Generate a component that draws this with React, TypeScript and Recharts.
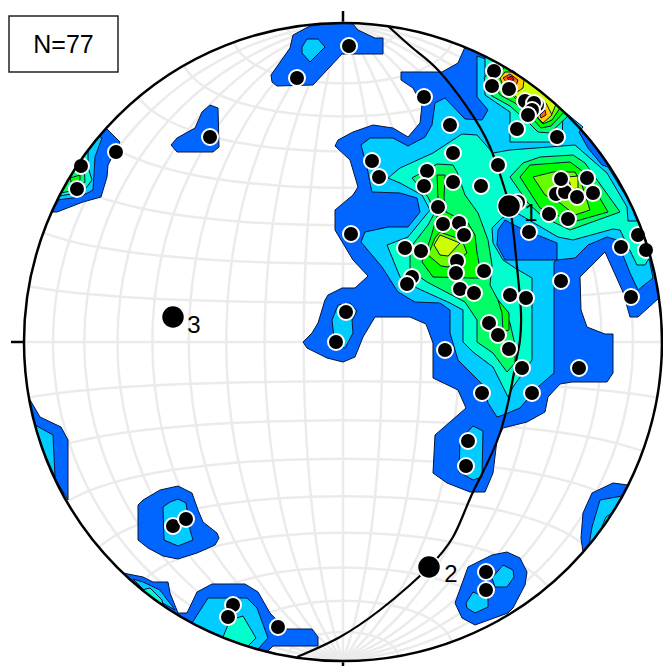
import React from 'react';
import { ScatterChart, Scatter, XAxis, YAxis, ReferenceDot, ReferenceLine, ReferenceArea } from 'recharts';

type Pair = [number, number];

const WIDTH = 663;
const HEIGHT = 666;
const NET_X = 343;
const NET_Y = 342;
const NET_R = 319;

// digitised contour outlines, lowest level first
const level1: Pair[][] = [
  [[465, 47], [500, 64], [530, 84], [560, 108], [590, 140], [610, 167], [630, 203], [645, 239], [655, 275], [659, 298], [638, 317], [630, 317], [623, 292], [605, 252], [580, 277], [581, 310], [587, 327], [605, 334], [613, 334], [613, 373], [607, 382], [572, 382], [560, 384], [548, 397], [545, 412], [527, 422], [503, 428], [497, 440], [493, 473], [485, 492], [470, 492], [447, 483], [433, 473], [435, 435], [466, 408], [458, 390], [433, 378], [433, 343], [426, 324], [410, 317], [375, 317], [363, 337], [355, 357], [343, 362], [327, 358], [307, 348], [303, 342], [312, 333], [318, 323], [325, 300], [328, 295], [342, 288], [355, 288], [368, 276], [353, 260], [335, 230], [335, 210], [353, 195], [358, 187], [353, 170], [350, 160], [335, 146], [338, 140], [353, 132], [373, 125], [393, 128], [408, 137], [420, 123], [422, 105], [413, 88], [401, 80], [401, 72], [442, 72], [458, 63]],
  [[271, 75], [290, 48], [293, 35], [310, 26], [327, 24], [352, 23], [358, 30], [375, 38], [383, 38], [383, 54], [342, 54], [313, 85], [277, 86], [272, 82]],
  [[106, 128], [120, 142], [108, 165], [107, 177], [101, 197], [83, 202], [57, 212], [52, 212], [74, 170]],
  [[202, 112], [210, 105], [218, 108], [219, 147], [213, 152], [177, 152], [171, 145], [177, 138], [195, 128]],
  [[29, 398], [40, 417], [61, 427], [68, 440], [68, 500], [53, 475], [43, 450], [35, 425]],
  [[138, 505], [143, 500], [160, 490], [178, 486], [192, 493], [198, 510], [203, 522], [217, 533], [219, 538], [215, 545], [197, 553], [178, 559], [163, 556], [148, 548], [138, 540]],
  [[123, 573], [143, 577], [153, 582], [168, 582], [170, 593], [178, 613], [187, 613], [197, 592], [212, 584], [245, 584], [258, 592], [270, 613], [285, 629], [312, 629], [318, 637], [318, 646], [273, 646], [267, 652], [230, 640], [200, 627], [175, 613], [150, 596]],
  [[583, 552], [581, 538], [583, 513], [592, 493], [613, 483], [628, 485], [610, 517]],
  [[455, 603], [468, 567], [492, 555], [507, 552], [520, 558], [527, 572], [525, 585], [513, 608], [508, 613], [475, 625], [462, 618]],
];

const level2: Pair[][] = [
  [[361, 145], [370, 138], [393, 138], [408, 146], [425, 137], [432, 125], [435, 103], [445, 98], [465, 119], [482, 120], [488, 110], [477, 97], [477, 56], [500, 64], [530, 84], [560, 108], [583, 127], [579, 132], [588, 148], [602, 165], [608, 167], [630, 203], [645, 239], [653, 278], [638, 290], [630, 273], [617, 240], [607, 237], [588, 245], [575, 258], [557, 260], [554, 262], [554, 373], [538, 387], [520, 408], [503, 415], [497, 417], [488, 403], [485, 387], [458, 360], [450, 333], [450, 310], [440, 303], [415, 302], [398, 292], [382, 267], [361, 242], [365, 232], [388, 227], [408, 227], [420, 212], [417, 198], [400, 193], [372, 192], [370, 183], [367, 167]],
  [[302, 47], [307, 39], [318, 39], [325, 47], [310, 62], [302, 53]],
  [[99, 136], [102, 138], [95, 157], [93, 190], [80, 197], [57, 200], [74, 170]],
  [[35, 425], [53, 435], [55, 477], [43, 450]],
  [[163, 507], [170, 502], [178, 499], [186, 503], [190, 530], [193, 540], [178, 546], [164, 540]],
  [[133, 579], [143, 582], [160, 590], [175, 610], [150, 596]],
  [[192, 623], [208, 598], [247, 598], [257, 608], [268, 638], [258, 649], [225, 638]],
  [[589, 545], [592, 527], [600, 500], [622, 496], [605, 524]],
  [[492, 578], [503, 565], [513, 570], [514, 577], [507, 587], [495, 587]],
  [[466, 603], [473, 592], [488, 598], [488, 607], [475, 613], [467, 608]],
  [[338, 305], [350, 303], [357, 311], [352, 320], [353, 333], [345, 348], [335, 347], [332, 320]],
  [[460, 440], [473, 426], [483, 431], [482, 477], [473, 480], [459, 472]],
];

// low pocket inside the main cyan contour
const lowPocket: Pair[] = [[498, 230], [505, 220], [520, 228], [557, 243], [557, 260], [505, 260], [497, 245]];

const level3: Pair[][] = [
  [[462, 134], [477, 135], [493, 153], [510, 150], [575, 145], [607, 173], [627, 207], [628, 221], [638, 221], [645, 239], [653, 252], [645, 265], [637, 265], [620, 230], [613, 229], [573, 240], [558, 237], [517, 213], [502, 218], [492, 228], [493, 243], [503, 260], [515, 268], [532, 278], [532, 360], [513, 387], [508, 397], [493, 367], [473, 352], [463, 342], [463, 310], [450, 303], [417, 288], [400, 277], [387, 245], [408, 237], [430, 210], [422, 195], [400, 183], [388, 178], [400, 168], [433, 153]],
  [[485, 56], [485, 95], [510, 112], [510, 142], [562, 142], [563, 112], [530, 84], [500, 64]],
  [[88, 150], [88, 167], [92, 180], [83, 192], [59, 196], [74, 170]],
  [[142, 590], [150, 588], [162, 600], [163, 605]],
  [[223, 637], [230, 620], [243, 616], [256, 638], [248, 646]],
  [[600, 531], [606, 517], [612, 513]],
];

const level4: Pair[][] = [
  [[412, 178], [437, 164], [453, 165], [457, 172], [465, 195], [478, 213], [488, 240], [492, 265], [490, 285], [498, 300], [510, 323], [515, 345], [515, 363], [507, 372], [493, 353], [477, 342], [477, 320], [465, 302], [427, 282], [410, 270], [410, 248], [428, 225], [435, 212], [428, 197]],
  [[510, 177], [523, 163], [540, 157], [573, 155], [585, 163], [620, 212], [570, 230], [543, 217], [528, 203]],
  [[498, 63], [484, 78], [492, 96], [510, 106], [528, 122], [538, 132], [550, 133], [568, 116], [530, 84]],
  [[79, 163], [84, 165], [85, 182], [75, 190], [61, 193], [74, 170]],
];

const level5: Pair[][] = [
  [[437, 175], [445, 175], [444, 198], [446, 212], [468, 223], [475, 235], [477, 253], [482, 278], [470, 278], [433, 277], [422, 262], [430, 240], [438, 213], [438, 198]],
  [[498, 300], [509, 313], [509, 330], [503, 332], [502, 313]],
  [[520, 177], [530, 165], [570, 162], [585, 173], [608, 212], [573, 222], [540, 208]],
  [[505, 67], [492, 80], [500, 95], [515, 103], [532, 118], [541, 128], [551, 126], [564, 112], [530, 84]],
  [[70, 178], [80, 175], [80, 180], [72, 185]],
];

const level6: Pair[][] = [
  [[440, 232], [462, 240], [467, 253], [448, 267], [441, 266], [428, 255], [435, 238]],
  [[533, 177], [553, 172], [575, 172], [582, 185], [590, 210], [575, 215], [560, 203], [545, 195]],
  [[512, 70], [505, 88], [515, 98], [532, 112], [543, 124], [552, 120], [560, 108], [530, 84]],
];

const level7: Pair[][] = [
  [[440, 235], [460, 243], [448, 256], [440, 255], [434, 245]],
  [[568, 177], [578, 176], [578, 188], [572, 190]],
  [[518, 75], [503, 80], [510, 92], [530, 108], [544, 118], [552, 114], [556, 104], [530, 84]],
];

const level8: Pair[][] = [
  [[500, 78], [505, 72], [515, 72], [524, 80], [523, 88], [517, 92], [505, 90]],
  [[536, 98], [546, 103], [552, 115], [543, 123], [538, 118]],
];

const level9: Pair[][] = [
  [[503, 78], [510, 74], [518, 80], [516, 86], [508, 84]],
  [[540, 115], [545, 110], [546, 115], [541, 118]],
];

const level10: Pair[][] = [[[507, 78], [512, 76], [514, 80], [510, 81]]];

const levelColors = ['#0066ff', '#00ccff', '#00ffcc', '#00ff66', '#00ff00', '#66ff00', '#ccff00', '#ffcc00', '#ff6600', '#ff0000'];
const levels = [level1, level2, level3, level4, level5, level6, level7, level8, level9, level10];

const poles: Pair[] = [
  [297, 78], [349, 46], [424, 97], [450, 125], [372, 161], [379, 177], [453, 153], [427, 171], [424, 186], [453, 182],
  [481, 186], [494, 71], [492, 86], [509, 89], [525, 101], [537, 105], [534, 103], [532, 110], [528, 115], [517, 129],
  [557, 137], [498, 165], [518, 202], [514, 204], [529, 232], [549, 214], [568, 219], [556, 194], [565, 192], [561, 179],
  [587, 178], [593, 193], [577, 197], [638, 235], [438, 207], [443, 224], [459, 223], [464, 235], [351, 234], [405, 248],
  [421, 251], [457, 261], [456, 273], [484, 271], [412, 277], [407, 284], [460, 289], [474, 293], [346, 312], [336, 342],
  [445, 350], [489, 323], [498, 335], [646, 250], [621, 247], [561, 281], [631, 297], [510, 295], [526, 298], [509, 349],
  [522, 368], [579, 368], [532, 393], [482, 393], [468, 441], [466, 466], [81, 166], [77, 189], [116, 152], [210, 137],
  [173, 526], [186, 519], [233, 605], [228, 617], [278, 627], [486, 572], [486, 590],
];

const eigenvectors: Pair[] = [[509, 206], [429, 567], [173, 317]];
const eigenLabels = ['1', '2', '3'];
const eigenLabelSpots: Pair[] = [[531, 212], [451, 573], [194, 324]];

const greatCircle: Pair[] = [
  [388, 26], [415, 50], [438, 70], [467, 107], [490, 147], [505, 190], [512, 220], [518, 277], [521, 313], [520, 340],
  [515, 367], [500, 433], [473, 492], [453, 537], [429, 567], [410, 585], [380, 610], [340, 637], [297, 657],
];

const netAngles = [-80, -70, -60, -50, -40, -30, -20, -10, 0, 10, 20, 30, 40, 50, 60, 70, 80];
const netSteps = [-90, -80, -70, -60, -50, -40, -30, -20, -10, 0, 10, 20, 30, 40, 50, 60, 70, 80, 90];

// equal-area (Schmidt) net
const schmidt = (lon: number, lat: number) => {
  const l = (lon * Math.PI) / 180;
  const p = (lat * Math.PI) / 180;
  const k = Math.sqrt(1 / (1 + Math.cos(p) * Math.cos(l)));
  return { x: NET_X + NET_R * k * Math.cos(p) * Math.sin(l), y: NET_Y - NET_R * k * Math.sin(p) };
};

const noMark = () => <g />;
const toPoints = (pairs: Pair[]) => pairs.map(([x, y]) => ({ x, y }));
const closed = (pairs: Pair[]) => toPoints([...pairs, pairs[0]]);

const PoleDot = (props: any) => <circle cx={props.cx} cy={props.cy} r={8} fill="#000" stroke="#fff" strokeWidth={2} />;
const EigenDot = (props: any) => <circle cx={props.cx} cy={props.cy} r={11.5} fill="#000" stroke="#fff" strokeWidth={1.5} />;
const EigenLabel = (props: any) => (
  <text x={props.cx} y={props.cy} textAnchor="middle" dominantBaseline="central" fontSize={24} fontFamily="Liberation Sans" fill="#000">
    {props.payload.label}
  </text>
);

const ticks = [
  [[343, 11], [343, 24]],
  [[343, 660], [343, 666]],
  [[11, 342], [24, 342]],
  [[660, 342], [663, 342]],
  [[332, 342], [354, 342]],
  [[343, 332], [343, 353]],
];

export default function App() {
  return (
    <div style={{ position: 'absolute', left: 0, top: 0, width: WIDTH, height: HEIGHT, background: '#fff' }}>
      <ScatterChart width={WIDTH} height={HEIGHT} margin={{ top: 0, right: 0, bottom: 0, left: 0 }}>
        <XAxis type="number" dataKey="x" domain={[0, WIDTH]} hide />
        <YAxis type="number" dataKey="y" domain={[0, HEIGHT]} reversed hide />

        {netAngles.map((lat) => (
          <Scatter
            key={`lat${lat}`}
            data={netSteps.map((lon) => schmidt(lon, lat))}
            shape={noMark}
            line={{ stroke: '#ebebeb', strokeWidth: 2.5, fill: 'none' }}
            lineJointType="natural"
            isAnimationActive={false}
          />
        ))}
        {netAngles.map((lon) => (
          <Scatter
            key={`lon${lon}`}
            data={netSteps.map((lat) => schmidt(lon, lat))}
            shape={noMark}
            line={{ stroke: '#ebebeb', strokeWidth: 2.5, fill: 'none' }}
            lineJointType="natural"
            isAnimationActive={false}
          />
        ))}

        {levels.map((polys, i) =>
          polys.map((poly, j) => (
            <Scatter
              key={`c${i}-${j}`}
              data={closed(poly)}
              shape={noMark}
              line={{ stroke: '#05143c', strokeWidth: 1, fill: levelColors[i] }}
              isAnimationActive={false}
            />
          )),
        )}
        <Scatter
          data={closed(lowPocket)}
          shape={noMark}
          line={{ stroke: '#05143c', strokeWidth: 1, fill: levelColors[0] }}
          isAnimationActive={false}
        />

        <Scatter
          data={toPoints(greatCircle)}
          shape={noMark}
          line={{ stroke: '#000', strokeWidth: 2.2, fill: 'none' }}
          lineJointType="natural"
          isAnimationActive={false}
        />
        <Scatter data={toPoints(poles)} shape={PoleDot} isAnimationActive={false} />
        <Scatter data={toPoints(eigenvectors)} shape={EigenDot} isAnimationActive={false} />
        <Scatter
          data={eigenLabelSpots.map(([x, y], i) => ({ x, y, label: eigenLabels[i] }))}
          shape={EigenLabel}
          isAnimationActive={false}
        />

        <ReferenceDot x={NET_X} y={NET_Y} r={NET_R} fill="none" stroke="#000" strokeWidth={2.5} />
        {ticks.map((t, i) => (
          <ReferenceLine
            key={i}
            segment={[{ x: t[0][0], y: t[0][1] }, { x: t[1][0], y: t[1][1] }]}
            stroke="#000"
            strokeWidth={2.5}
          />
        ))}
        <ReferenceArea
          x1={9}
          x2={118}
          y1={16}
          y2={72}
          fill="#fff"
          fillOpacity={1}
          stroke="#222"
          strokeWidth={1.5}
          label={{ value: 'N=77', position: 'center', fontSize: 25, fontFamily: 'Liberation Sans', fill: '#000' }}
        />
      </ScatterChart>
    </div>
  );
}
